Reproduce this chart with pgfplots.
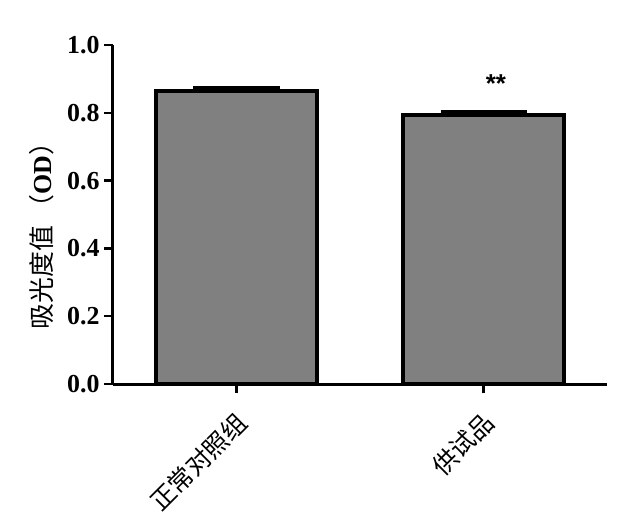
\documentclass[border=0pt]{standalone}
\usepackage{pgfplots}
\pgfplotsset{compat=1.18}
\usepackage{fontspec}
\setmainfont{Liberation Serif}
\newfontfamily\cjk{Noto Sans CJK SC}
\newfontfamily\sansf{Liberation Sans}
\begin{document}
\begin{tikzpicture}
\path[use as bounding box] (-113bp,-148bp) rectangle (527bp,384bp);
\begin{axis}[
  anchor=south west, at={(0,0)},
  scale only axis, width=494bp, height=339bp,
  xmin=-0.5, xmax=1.5, ymin=0, ymax=1.0,
  axis x line=bottom, axis y line=left,
  axis line style={line width=3bp, -},
  every outer x axis line/.append style={-},
  every outer y axis line/.append style={-},
  xtick={0,1}, xticklabels={{\cjk 正常对照组},{\cjk 供试品}},
  ytick={0,0.2,0.4,0.6,0.8,1.0},
  yticklabel style={/pgf/number format/fixed, /pgf/number format/fixed zerofill, /pgf/number format/precision=1},
  /pgf/number format/assume math mode=true,
  tick style={line width=2.5bp, black},
  tick align=outside,
  major tick length=9bp,
  yticklabel style={font=\bfseries\fontsize{26}{26}\selectfont, xshift=-1bp},
  xticklabel style={font=\fontsize{25}{25}\selectfont, rotate=45, anchor=north east, xshift=-10bp, yshift=-7bp},
  ylabel={{\cjk 吸光度值 （}{\bfseries OD}{\cjk ）}},
  ylabel style={font=\fontsize{26}{26}\selectfont, at={(rel axis cs:0,0.5)}, xshift=-15bp, yshift=71bp, anchor=center},
  ybar, bar width=161bp,
  clip=false,
]
\addplot[draw=black, line width=3.5bp, fill={rgb,255:red,128;green,128;blue,128},
  error bars/.cd, y dir=plus, y explicit, error mark=|,
  error bar style={line width=3.5bp},
  error mark options={line width=3.5bp, mark size=43bp}]
  coordinates {(0,0.864) +- (0,0.009) (1,0.794) +- (0,0.008)};
\node[font=\sansf\bfseries\fontsize{26}{26}\selectfont] at (axis cs:1.05,0.886) {**};
\end{axis}
\end{tikzpicture}
\end{document}
